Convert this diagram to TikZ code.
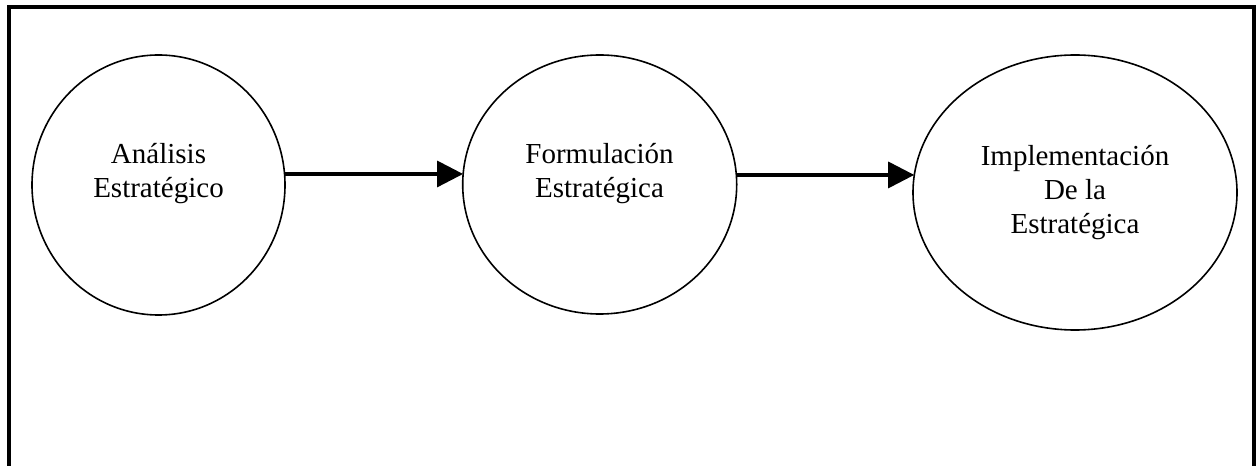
\documentclass[tikz,border=0pt]{standalone}
\usepackage{fontspec}
\setmainfont{Liberation Serif}
\usetikzlibrary{shapes.geometric,arrows.meta}
\begin{document}
\begin{tikzpicture}[x=0.75pt,y=-0.75pt,
  bubble/.style={draw,ellipse,line width=1.2pt,inner sep=0pt,outer sep=0pt},
  bubbletext/.style={align=center,anchor=base,inner sep=0pt,
    font=\fontsize{21.75pt}{25.5pt}\selectfont},
  flow/.style={line width=2.4pt,-{Triangle[length=19.5pt,width=19.5pt]}},
  frame/.style={line width=3pt}]
\useasboundingbox (0,0) rectangle (1256,466);
\clip (0,0) rectangle (1256,466);

% outer frame (runs past the lower edge)
\draw[frame] (9,7) rectangle (1253.5,500);

% the three stages
\node[bubble,minimum width={253*0.75pt},minimum height={260*0.75pt}] (c1) at (158.5,185) {};
\node[bubble,minimum width={274*0.75pt},minimum height={259*0.75pt}] (c2) at (599.7,184.5) {};
\node[bubble,minimum width={324*0.75pt},minimum height={275*0.75pt}] (c3) at (1075,192.5) {};

% stage names (anchored at the baseline of the last line)
\node[bubbletext] (t1) at (158.5,198) {Análisis\\Estratégico};
\node[bubbletext] (t2) at (599.5,198) {Formulación\\Estratégica};
\node[bubbletext] (t3) at (1075,234) {Implementación\\De la\\Estratégica};

% connectors
\draw[flow] (c1.5) -- (c1.5 -| c2.176);
\draw[flow] (c2.4) -- (c2.4 -| c3.174);
\end{tikzpicture}
\end{document}
